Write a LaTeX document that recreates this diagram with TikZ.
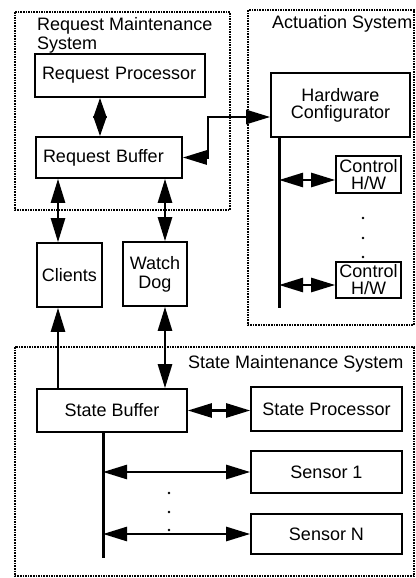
\documentclass[tikz,border=0pt]{standalone}
\usepackage{fontspec}
\setmainfont{Liberation Sans}
\usetikzlibrary{arrows.meta}
\tikzset{
  frame/.style={densely dotted, line width=1.6pt},
  title/.style={anchor=north west, inner sep=0pt, align=left},
  box/.style={draw, line width=1.6pt, inner sep=0pt, align=center},
  tight/.style={font=\fontsize{18}{17}\selectfont},
  link/.style={line width=2.6pt, -{Triangle[length=24pt,width=14pt]}},
  dbl/.style={line width=2.6pt, {Triangle[length=24pt,width=14pt]}-{Triangle[length=24pt,width=14pt]}},
  dblshort/.style={line width=2.6pt, {Triangle[length=20pt,width=13pt]}-{Triangle[length=20pt,width=13pt]}},
  bus/.style={line width=3pt},
}
\begin{document}
\begin{tikzpicture}[x=1pt,y=-1pt,font=\fontsize{18}{19}\selectfont]
  \useasboundingbox (0,0) rectangle (415,578);
  \draw[frame] (15,12) rectangle (230,210);
  \draw[frame] (248,10) rectangle (414,325);
  \draw[frame] (15,347) rectangle (414,576);
  \node[title] (rmslbl) at (37,17) {Request Maintenance\\System};
  \node[title] (aslbl) at (272,15) {Actuation System};
  \node[title] (smslbl) at (188,355) {State Maintenance System};

  \node[box, minimum width=170pt, minimum height=43pt, text width=156pt, inner xsep=7pt, align=left] (rp) at (120,75.5) {Request Processor};
  \node[box, minimum width=146pt, minimum height=41pt, text width=132pt, inner xsep=7pt, align=left] (rb) at (109,157.5) {Request Buffer};
  \node[box, tight, minimum width=139pt, minimum height=64pt] (hc) at (340.5,105) {Hardware\\Configurator};
  \node[box, tight, minimum width=65pt, minimum height=37pt] (ctrl1) at (368.5,174.5) {Control\\H/W};
  \node[box, tight, minimum width=65pt, minimum height=36pt] (ctrl2) at (368.5,280) {Control\\H/W};
  \node[box, minimum width=65pt, minimum height=64pt] (clients) at (69.5,275) {Clients};
  \node[box, minimum width=64pt, minimum height=64pt] (wd) at (155,274) {Watch\\Dog};
  \node[box, minimum width=150pt, minimum height=43pt] (sb) at (112,410.5) {State Buffer};
  \node[box, minimum width=151pt, minimum height=44pt] (sp) at (326.5,409) {State Processor};
  \node[box, minimum width=151pt, minimum height=42pt] (s1) at (326.5,472) {Sensor 1};
  \node[box, minimum width=151pt, minimum height=40pt] (sn) at (326.5,534) {Sensor N};

  \coordinate (xrp) at (100,0);
  \coordinate (xcl) at (58,0);
  \coordinate (xwd) at (165,0);
  \coordinate (kink) at (208,117);
  \coordinate (hbus) at (279,308);
  \coordinate (a1) at (279,180);
  \coordinate (a2) at (279,285);
  \coordinate (sbus) at (103,558);

  \draw[dblshort] (rp.south -| xrp) -- (rb.north -| xrp);
  \draw[dbl] (rb.east) -| (kink) -- (kink -| hc.west);
  \draw[dbl] (rb.south -| xcl) -- (clients.north -| xcl);
  \draw[dbl] (rb.south -| xwd) -- (wd.north -| xwd);
  \draw[link] (sb.north -| xcl) -- (clients.south -| xcl);
  \draw[dbl] (wd.south -| xwd) -- (sb.north -| xwd);
  \draw[dbl] (sb.east) -- (sb.east -| sp.west);
  \draw[bus] (hc.south -| hbus) -- (hbus);
  \draw[dbl] (a1) -- (a1 -| ctrl1.west);
  \draw[dbl] (a2) -- (a2 -| ctrl2.west);
  \draw[bus] (sb.south -| sbus) -- (sbus);
  \draw[dbl] (s1.west -| sbus) -- (s1.west);
  \draw[dbl] (sn.west -| sbus) -- (sn.west);
  \foreach \y in {218,238,257} \fill (363,\y) circle (1.3pt);
  \foreach \y in {493,512,530} \fill (169,\y) circle (1.3pt);
\end{tikzpicture}
\end{document}
